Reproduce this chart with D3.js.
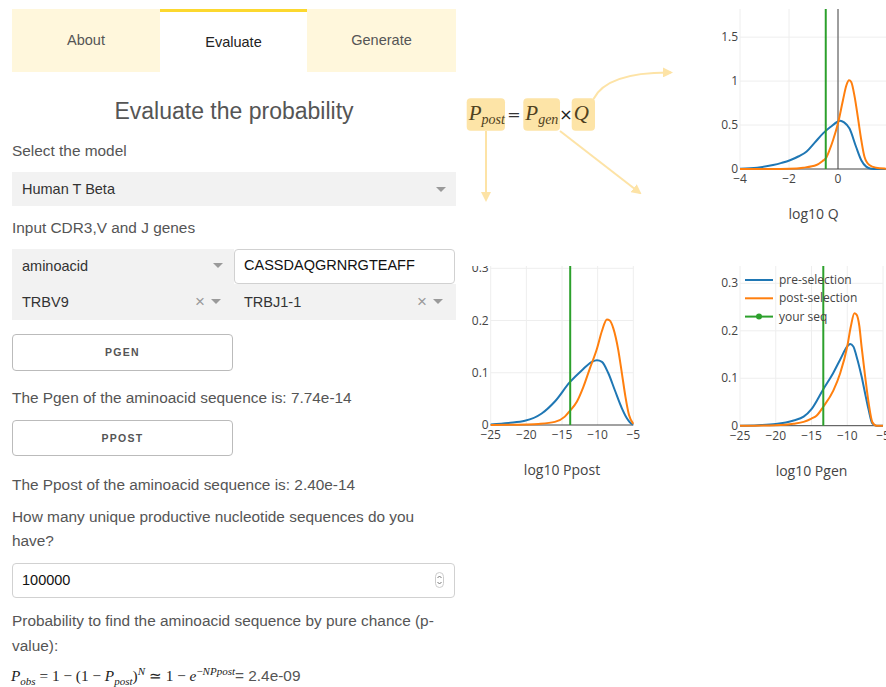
<!DOCTYPE html>
<html>
<head>
<meta charset="utf-8">
<script src="https://cdn.jsdelivr.net/npm/d3@7"></script>
<style>
  body { margin:0; width:886px; height:687px; overflow:hidden; position:relative; background:#fff;
         font-family:"Liberation Sans", Arial, sans-serif; color:#555; }
  .abs { position:absolute; white-space:nowrap; }
  .tab { text-align:center; font-size:14.5px; }
  .lbl { left:12px; font-size:15.4px; line-height:24px; }
  .gray { background:#f2f2f2; }
  .caret { width:0; height:0; border-left:5px solid transparent; border-right:5px solid transparent; border-top:5px solid #9a9a9a; }
  .x { font-size:17px; color:#9a9a9a; line-height:20px; }
  .box { background:#fff; border:1px solid #d1d1d1; border-radius:4px; box-sizing:border-box; }
  .btn { background:#fff; border:1px solid #bbb; border-radius:4px; box-sizing:border-box; text-align:center;
         font-size:10.5px; font-weight:bold; letter-spacing:1.3px; color:#555; line-height:34px; }
  .val { font-size:14.5px; color:#333; line-height:20px; }
  svg text { font-family:"Open Sans", sans-serif; }
  .mj { font-family:"Liberation Serif", serif; font-size:15.3px; color:#222; }
  .mj sub, .mj sup { font-size:11px; line-height:0; }
</style>
</head>
<body>

<!-- tabs -->
<div class="abs tab" style="left:12px;top:9px;width:148px;height:63px;line-height:63px;background:#fff7dc;">About</div>
<div class="abs tab" style="left:160px;top:9px;width:147px;height:60px;line-height:60px;border-top:3px solid #fcd82f;color:#222;">Evaluate</div>
<div class="abs tab" style="left:307px;top:9px;width:149px;height:63px;line-height:63px;background:#fff7dc;">Generate</div>

<div class="abs" style="left:12px;top:96px;width:444px;text-align:center;font-size:23px;line-height:30px;">Evaluate the probability</div>

<div class="abs lbl" style="top:139px;">Select the model</div>
<div class="abs gray" style="left:12px;top:172px;width:444px;height:34px;"></div>
<div class="abs val" style="left:22px;top:179px;">Human T Beta</div>
<div class="abs caret" style="left:436px;top:187px;"></div>

<div class="abs lbl" style="top:216px;">Input CDR3,V and J genes</div>
<div class="abs gray" style="left:12px;top:249px;width:222px;height:35px;"></div>
<div class="abs val" style="left:22px;top:256px;">aminoacid</div>
<div class="abs caret" style="left:213px;top:263px;"></div>
<div class="abs box" style="left:234px;top:249px;width:221px;height:35px;"></div>
<div class="abs val" style="left:244px;top:255px;color:#111;">CASSDAQGRNRGTEAFF</div>

<div class="abs gray" style="left:12px;top:284px;width:444px;height:36px;"></div>
<div class="abs val" style="left:22px;top:292px;">TRBV9</div>
<div class="abs x" style="left:195px;top:292px;">×</div>
<div class="abs caret" style="left:211px;top:299px;"></div>
<div class="abs val" style="left:244px;top:292px;">TRBJ1-1</div>
<div class="abs x" style="left:417px;top:292px;">×</div>
<div class="abs caret" style="left:433px;top:299px;"></div>

<div class="abs btn" style="left:12px;top:334px;width:221px;height:37px;">PGEN</div>
<div class="abs lbl" style="top:386px;">The Pgen of the aminoacid sequence is: 7.74e-14</div>
<div class="abs btn" style="left:12px;top:420px;width:221px;height:36px;">PPOST</div>
<div class="abs lbl" style="top:473px;">The Ppost of the aminoacid sequence is: 2.40e-14</div>
<div class="abs lbl" style="top:505px;">How many unique productive nucleotide sequences do you<br>have?</div>

<div class="abs box" style="left:12px;top:563px;width:443px;height:35px;"></div>
<div class="abs val" style="left:22px;top:570px;color:#111;">100000</div>
<svg class="abs" style="left:434px;top:572px;" width="12" height="17">
  <rect x="1.5" y="0.5" width="8" height="15" rx="4" fill="#fff" stroke="#ccc"/>
  <path d="M3.5 6 L5.5 4 L7.5 6 M3.5 10 L5.5 12 L7.5 10" fill="none" stroke="#777" stroke-width="1"/>
</svg>

<div class="abs lbl" style="top:609px;line-height:24.5px;">Probability to find the aminoacid sequence by pure chance (p-<br>value):</div>
<div class="abs" style="left:11px;top:666px;line-height:20px;">
  <span class="mj"><i>P</i><sub><i>obs</i></sub> = 1 − (1 − <i>P</i><sub><i>post</i></sub>)<sup><i>N</i></sup> ≃ 1 − <i>e</i><sup>−<i>NPpost</i></sup></span><span style="font-size:15.4px;">= 2.4e-09</span>
</div>

<!-- formula diagram -->
<svg id="diagram" class="abs" style="left:455px;top:60px;" width="235" height="150"></svg>

<svg id="qChart" class="abs" style="left:690px;top:0px;" width="196" height="235"></svg>
<svg id="ppostChart" class="abs" style="left:455px;top:266px;" width="200" height="222"></svg>
<svg id="pgenChart" class="abs" style="left:690px;top:263px;" width="196" height="225"></svg>

<script>
// ---- data ----
const qPreX   = [-4,-3.3,-2.65,-2.3,-1.96,-1.6,-1.28,-0.95,-0.61,-0.3,0,0.09,0.25,0.47,0.74,0.95,1.15,1.35,1.7,2];
const qPreY   = [0.003,0.015,0.045,0.07,0.1,0.145,0.2,0.3,0.405,0.48,0.54,0.55,0.53,0.46,0.25,0.1,0.027,0.004,0.001,0];
const qPostX  = [-4,-3,-2,-1.42,-0.88,-0.61,-0.5,-0.34,-0.2,0,0.2,0.34,0.45,0.54,0.68,0.81,0.95,1.08,1.28,1.55,1.93,2];
const qPostY  = [0,0.001,0.004,0.015,0.045,0.095,0.12,0.22,0.33,0.52,0.78,0.95,1.01,0.99,0.82,0.59,0.33,0.14,0.045,0.015,0.004,0.003];

const ppPreX  = [-25,-22.5,-20.2,-17.85,-16,-13.9,-12.2,-10.8,-10.1,-9.4,-8.5,-7.6,-6.6,-5.9,-5.2,-5];
const ppPreY  = [0.001,0.004,0.008,0.022,0.045,0.082,0.105,0.121,0.124,0.121,0.099,0.067,0.032,0.013,0.002,0.001];
const ppPostX = [-25,-20,-18.3,-16,-14.6,-13.9,-12.9,-12,-11.1,-10.1,-9.4,-8.7,-8.3,-7.8,-7.1,-6.6,-6.1,-5.6,-5];
const ppPostY = [0,0.001,0.002,0.006,0.016,0.027,0.045,0.073,0.108,0.146,0.18,0.202,0.2,0.185,0.143,0.099,0.054,0.019,0.002];

const pgPreX  = [-25,-22.5,-20,-17.5,-16.1,-15,-13.35,-12,-11,-10,-9.6,-9.15,-8.7,-8,-7.5,-7,-6.5,-5.9,-5];
const pgPreY  = [0,0.001,0.0035,0.011,0.019,0.035,0.077,0.11,0.139,0.167,0.172,0.167,0.146,0.104,0.068,0.033,0.005,0,0];
const pgPostX = [-25,-20,-17.5,-16.1,-15,-14.3,-13.35,-11.95,-11,-10,-9.5,-9,-8.7,-8.3,-8,-7.5,-7,-6.5,-5.9,-5];
const pgPostY = [0,0.001,0.004,0.008,0.015,0.021,0.04,0.074,0.11,0.167,0.209,0.237,0.234,0.209,0.167,0.104,0.047,0.008,0,0];

const seqQ = -0.5, seqPpost = -13.85, seqPgen = -13.35;
const legendNames = ["pre-selection", "post-selection", "your seq"];
const blue = "#1f77b4", orange = "#ff7f0e", green = "#2ca02c";

const zip = (xs, ys) => xs.map((x, i) => ({ x: x, y: ys[i] }));

function drawChart(svg, cfg) {
  const [left, right, top, bottom] = cfg.area;
  const x = d3.scaleLinear().domain(cfg.xDomain).range([left, right]);
  const y = d3.scaleLinear().domain(cfg.yDomain).range([bottom, top]);

  // grid
  svg.append("g").selectAll("line.vg")
     .data(cfg.xTicks)
     .join("line")
       .attr("x1", d => x(d)).attr("x2", d => x(d))
       .attr("y1", top).attr("y2", bottom)
       .attr("stroke", "#eee");
  svg.append("g").selectAll("line.hg")
     .data(cfg.yTicks.filter(d => d !== 0))
     .join("line")
       .attr("x1", left).attr("x2", right)
       .attr("y1", d => y(d)).attr("y2", d => y(d))
       .attr("stroke", "#eee");

  // zero lines
  if (cfg.xDomain[0] < 0 && cfg.xDomain[1] > 0) {
    svg.append("line")
       .attr("x1", x(0)).attr("x2", x(0)).attr("y1", top).attr("y2", bottom)
       .attr("stroke", "#444");
  }
  svg.append("line")
     .attr("x1", left).attr("x2", right).attr("y1", y(0)).attr("y2", y(0))
     .attr("stroke", "#444");

  // curves
  const line = d3.line().x(d => x(d.x)).y(d => y(d.y)).curve(d3.curveMonotoneX);
  cfg.series.forEach(s => {
    svg.append("path")
       .datum(s.points)
       .attr("d", line)
       .attr("fill", "none")
       .attr("stroke", s.color)
       .attr("stroke-width", 2);
  });

  // your sequence
  svg.append("line")
     .attr("x1", x(cfg.seq)).attr("x2", x(cfg.seq))
     .attr("y1", top).attr("y2", y(0))
     .attr("stroke", green).attr("stroke-width", 2);

  // axes labels
  const fmt = d => String(d).replace("-", "\u2212");
  svg.append("g").selectAll("text")
     .data(cfg.xTicks)
     .join("text")
       .attr("x", d => x(d)).attr("y", bottom + 14)
       .attr("text-anchor", "middle")
       .attr("font-size", 12).attr("fill", "#444")
       .text(fmt);
  svg.append("g").selectAll("text")
     .data(cfg.yTicks)
     .join("text")
       .attr("x", left - 2).attr("y", d => y(d) + 4)
       .attr("text-anchor", "end")
       .attr("font-size", 12).attr("fill", "#444")
       .text(fmt);

  svg.append("text")
     .attr("x", (left + right) / 2).attr("y", cfg.titleY)
     .attr("text-anchor", "middle")
     .attr("font-size", 14).attr("fill", "#444")
     .text(cfg.title);

  if (cfg.legend) {
    const colors = [blue, orange, green];
    const lg = svg.append("g").selectAll("g")
       .data(legendNames)
       .join("g")
         .attr("transform", (d, i) => `translate(${left + 5},${cfg.legendY + i * 18.3})`);
    lg.append("line")
       .attr("x1", 0).attr("x2", 28)
       .attr("stroke", (d, i) => colors[i]).attr("stroke-width", 2);
    lg.filter((d, i) => i === 2).append("circle")
       .attr("cx", 14).attr("r", 3).attr("fill", green);
    lg.append("text")
       .attr("x", 34).attr("y", 4)
       .attr("font-size", 12).attr("fill", "#444")
       .text(d => d);
  }
}

drawChart(d3.select("#qChart"), {
  area: [50, 197, 9, 169],
  xDomain: [-4, 2], yDomain: [0, 1.82],
  xTicks: [-4, -2, 0], yTicks: [0, 0.5, 1, 1.5],
  series: [{ points: zip(qPreX, qPreY), color: blue }, { points: zip(qPostX, qPostY), color: orange }],
  seq: seqQ, title: "log10 Q", titleY: 219
});

drawChart(d3.select("#ppostChart"), {
  area: [35.7, 178.3, 0, 159],
  xDomain: [-25, -5], yDomain: [0, 0.3044],
  xTicks: [-25, -20, -15, -10, -5], yTicks: [0, 0.1, 0.2, 0.3],
  series: [{ points: zip(ppPreX, ppPreY), color: blue }, { points: zip(ppPostX, ppPostY), color: orange }],
  seq: seqPpost, title: "log10 Ppost", titleY: 209
});

drawChart(d3.select("#pgenChart"), {
  area: [50, 193, 3, 162.7],
  xDomain: [-25, -5], yDomain: [0, 0.3365],
  xTicks: [-25, -20, -15, -10, -5], yTicks: [0, 0.1, 0.2, 0.3],
  series: [{ points: zip(pgPreX, pgPreY), color: blue }, { points: zip(pgPostX, pgPostY), color: orange }],
  seq: seqPgen, title: "log10 Pgen", titleY: 213,
  legend: true, legendY: 17
});

// ---- formula diagram ----
const dg = d3.select("#diagram");
const boxFill = "#fde4a7", arrowCol = "#fde3a6", ink = "#4f4120";
dg.append("defs").append("marker")
  .attr("id", "head").attr("viewBox", "0 0 10 10")
  .attr("refX", 8).attr("refY", 5)
  .attr("markerWidth", 5).attr("markerHeight", 5)
  .attr("orient", "auto")
  .append("path").attr("d", "M0,0 L10,5 L0,10 z").attr("fill", arrowCol);

const boxes = [
  { x: 11.7, w: 38.3, main: "P", sub: "post" },
  { x: 68.3, w: 36.7, main: "P", sub: "gen" },
  { x: 116.7, w: 23.3, main: "Q", sub: "" }
];
dg.selectAll("rect.b").data(boxes).join("rect")
  .attr("x", d => d.x).attr("y", 38.3).attr("width", d => d.w).attr("height", 32.4)
  .attr("rx", 4).attr("fill", boxFill);
const tx = dg.selectAll("text.b").data(boxes).join("text")
  .attr("x", d => d.x + 2).attr("y", 59.5)
  .style("font-family", "'Liberation Serif', serif").style("font-style", "italic")
  .attr("fill", ink);
tx.append("tspan").attr("font-size", 21).text(d => d.main);
tx.append("tspan").attr("font-size", 14).attr("dy", 4.5).text(d => d.sub);

dg.append("text").attr("x", 59).attr("y", 60).attr("text-anchor", "middle")
  .attr("font-size", 16).attr("fill", "#333").style("font-family", "'DejaVu Sans', sans-serif").text("=");
dg.append("text").attr("x", 111).attr("y", 60).attr("text-anchor", "middle")
  .attr("font-size", 16).attr("fill", "#222").style("font-family", "'DejaVu Sans', sans-serif").text("×");

const arrows = ["M31,71 L31,140", "M105,71 L185,133", "M138.5,39 Q152,12 216,12.5"];
dg.selectAll("path.a").data(arrows).join("path")
  .attr("d", d => d).attr("fill", "none")
  .attr("stroke", arrowCol).attr("stroke-width", 2)
  .attr("marker-end", "url(#head)");
</script>
</body>
</html>
